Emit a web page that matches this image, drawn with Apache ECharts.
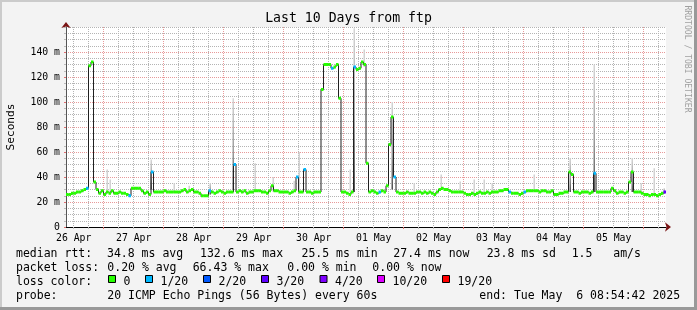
<!DOCTYPE html>
<html><head><meta charset="utf-8">
<script src="https://cdn.jsdelivr.net/npm/echarts@6/dist/echarts.min.js"></script>
<style>html,body{margin:0;padding:0;background:#f3f3f3}#c{width:697px;height:310px}</style>
</head><body><div id="c"></div>
<script>
// x values are hours since 2025-04-26 00:00
const startHour = 8 + 54/60 + 42/3600;   // graph start: Sat Apr 26 08:54:42 2025
const spanHours = 240;                    // 10 days, one median value per hour
const dayLabels = ['26 Apr','27 Apr','28 Apr','29 Apr','30 Apr','01 May','02 May','03 May','04 May','05 May'];
const dayLabelHours = [12,36,60,84,108,132,156,180,204,228];
const midnightHours = [24,48,72,96,120,144,168,192,216,240];
const minorHours = [12,18,24,30,36,42,48,54,60,66,72,78,84,90,96,102,108,114,120,126,132,138,144,150,156,162,168,174,180,186,192,198,204,210,216,222,228,234,240,246];
const yMajorTicks = [0,20,40,60,80,100,120,140];
const yTickLabels = ['0','20 m','40 m','60 m','80 m','100 m','120 m','140 m'];

// median rtt (ms), one value per hour from the start
const medianMs = [
 26,26,27,27,28,28,29,30,31,129,132,36,
 30,27,29,26,28,27,29,27,27,28,27,27,
 26,25,31,31,31,31,29,27,28,26,44,28,
 28,28,28,29,28,28,28,28,28,28,29,30,
 28,29,30,28,28,27,25,25,25,29,28,27,
 28,29,28,27,28,28,28,50,28,29,28,29,
 27,28,28,29,29,29,28,28,27,29,33,29,
 29,28,28,28,28,27,28,29,40,28,28,46,
 28,28,27,28,28,28,110,130,130,130,127,128,
 130,103,28,28,27,26,28,128,126,127,132,130,
 51,28,29,28,27,28,29,28,33,66,88,40,
 28,27,27,27,28,27,27,27,28,28,27,28,
 27,28,27,26,28,30,31,30,30,29,28,28,
 28,28,28,27,26,26,27,26,27,28,27,27,
 28,27,28,28,28,29,29,30,30,28,27,27,
 27,26,27,28,29,29,29,29,29,28,29,29,
 28,28,29,26,26,27,27,28,28,44,42,28,
 28,27,28,28,28,27,28,43,28,28,28,28,
 28,28,31,29,27,28,28,27,28,36,44,28,
 28,28,27,26,26,25,26,26,25,26,27,28
];
// hour index -> loss colour index (0 = no loss)
const lossColumns = [[8,1],[25,1],[34,1],[57,1],[67,1],[92,1],[95,1],[106,1],[115,1],[125,1],[131,1],[177,1],[183,1],[211,1],[239,3]];
// smoke spikes: [hours after start, low ms, high ms, shade level]
const smoke = [
 [16.4,28,46,1],[17.6,28,38,1],[34.0,30,54,2],[43.2,28,35,1],[49.1,29,33,1],[57.6,26,35,2],
 [67.0,30,103,2],[75.7,28,51,1],[82.7,28,40,1],[91.0,28,37,1],[93.0,28,60,1],[113.7,28,46,1],
 [115.2,28,159,2],[119.3,128,142,1],[130.2,30,100,2],[139.2,27,35,1],[150.0,30,42,1],[157.6,28,36.5,1],
 [163.2,27,38,1],[167.1,28,38,1],[170.4,28,35,1],[187.1,29,42,1],[201.6,28,55,2],[211.2,28,130,2],
 [226.4,28,55,2],[230.0,26,35,1],[235.2,26,47,1],[239.1,27,31,2]
];
const lossLegend = ['0','1/20','2/20','3/20','4/20','10/20','19/20'];
const lossColors = ['#26ff00','#00b8ff','#0059ff','#5e00ff','#7e00ff','#dd00ff','#ff0000'];
const titleText = 'Last 10 Days from ftp';
const legendRtt = ['median rtt:','34.8 ms avg','132.6 ms max','25.5 ms min','27.4 ms now','23.8 ms sd','1.5   am/s'];
const legendLoss = ['packet loss:','0.20 % avg','66.43 % max','0.00 % min','0.00 % now'];
const legendProbe = ['probe:','20 ICMP Echo Pings (56 Bytes) every 60s','end: Tue May  6 08:54:42 2025'];

// ---- layout ----
const FONT = 'DejaVu Sans Mono';
const rttX = [16,107,200,301.5,393.3,486.7,571.7];
const lossX = [16,107.3,192.7,287.3,372.3];
const boxX = [108.5,145.5,203.5,261.5,320,377.5,442.5];
const probeX = [16,107.3,479.3];
const rowY = [254.3,268.2,282,295.8];

const lossMap = {};
lossColumns.forEach(([i,l]) => lossMap[i] = l);
const medianLine = medianMs.map((v,i) => [startHour+i, v]);
medianLine.push([startHour+spanHours, medianMs[medianMs.length-1]]);
const bandData = medianMs.map((v,i) => [startHour+i, v, lossMap[i] || 0]);
const smokeData = smoke.map(s => [startHour+s[0], s[1], s[2], s[3]]);

const xMin = startHour, xMax = startHour + spanHours;
const gridMinor = {color:'#b4b4b4', type:[1,1], width:1};
const gridMajor = {color:'#e89a9a', type:[1,1], width:1};

const graphics = [];
function txt(x,y,s,opt){ graphics.push(Object.assign({type:'text', x, y, silent:true, style:Object.assign({text:s, font:'11.5px "'+FONT+'"', fill:'#000', textAlign:'left', textVerticalAlign:'middle'}, opt||{})})); }
// borders
graphics.push({type:'rect', shape:{x:0,y:0,width:697,height:2}, style:{fill:'#cbcbcb'}, silent:true});
graphics.push({type:'rect', shape:{x:0,y:0,width:2,height:310}, style:{fill:'#cbcbcb'}, silent:true});
graphics.push({type:'rect', shape:{x:694,y:0,width:3,height:310}, style:{fill:'#999'}, silent:true});
graphics.push({type:'rect', shape:{x:0,y:307,width:697,height:3}, style:{fill:'#999'}, silent:true});
txt(348.5,19,titleText,{font:'13.2px "'+FONT+'"', textAlign:'center'});
graphics.push({type:'text', x:11, y:127, rotation:Math.PI/2, silent:true, style:{text:'Seconds', font:'11.2px "'+FONT+'"', fill:'#000', textAlign:'center', textVerticalAlign:'middle'}});
graphics.push({type:'text', x:687.5, y:59, rotation:-Math.PI/2, silent:true, style:{text:'RRDTOOL / TOBI OETIKER', font:'8.1px "'+FONT+'"', fill:'#a0a0a0', textAlign:'center', textVerticalAlign:'middle'}});
legendRtt.forEach((s,k)=>txt(rttX[k],rowY[0],s));
legendLoss.forEach((s,k)=>txt(lossX[k],rowY[1],s));
txt(16,rowY[2],'loss color:');
lossLegend.forEach((s,k)=>{
  graphics.push({type:'rect', silent:true, shape:{x:boxX[k],y:275.5,width:7,height:7}, style:{fill:lossColors[k], stroke:'#000', lineWidth:1}});
  txt(boxX[k]+15,rowY[2],s);
});
legendProbe.forEach((s,k)=>txt(probeX[k],rowY[3],s));

const axisFont = {fontFamily:FONT, fontSize:9.8, color:'#000'};

const option = {
  animation:false,
  backgroundColor:'#f3f3f3',
  grid:{left:66, top:27, width:600, height:200, show:true, backgroundColor:'#ffffff', borderWidth:0},
  xAxis:[
    {type:'value', min:xMin, max:xMax, position:'bottom',
     axisLine:{show:true, onZero:false, lineStyle:{color:'#000', width:1}},
     axisTick:{show:true, customValues:minorHours, length:2, lineStyle:{color:'#bbb'}},
     axisLabel:{show:false}, splitLine:{show:true, lineStyle:gridMinor}},
    {type:'value', min:xMin, max:xMax, position:'bottom',
     axisLine:{show:true, onZero:false, symbol:['none','arrow'], symbolSize:[7,6], symbolOffset:[0,5], lineStyle:{color:'#7a1414', width:0}},
     axisTick:{show:true, customValues:midnightHours, length:2, lineStyle:{color:'#e07070'}},
     axisLabel:{show:false}, splitLine:{show:true, lineStyle:gridMajor}},
    {type:'value', min:xMin, max:xMax, position:'bottom',
     axisLine:{show:false, onZero:false}, axisTick:{show:false, customValues:dayLabelHours},
     axisLabel:Object.assign({show:true, customValues:dayLabelHours, margin:11, verticalAlign:'middle',
       formatter:v=>{const k=dayLabelHours.findIndex(h=>Math.abs(h-v)<1e-6); return k<0?'':dayLabels[k];}}, axisFont),
     splitLine:{show:false}}
  ],
  yAxis:[
    {type:'value', min:0, max:160, interval:5, position:'left',
     axisLine:{show:true, lineStyle:{color:'#555', width:1}},
     axisTick:{show:true, length:2, lineStyle:{color:'#bbb'}},
     axisLabel:{show:false}, splitLine:{show:true, lineStyle:gridMinor}},
    {type:'value', min:0, max:160, position:'left',
     axisLine:{show:true, symbol:['none','arrow'], symbolSize:[7,6], symbolOffset:[0,5], lineStyle:{color:'#7a1414', width:0}},
     axisTick:{show:true, customValues:yMajorTicks, length:2, lineStyle:{color:'#e07070'}},
     axisLabel:Object.assign({show:true, customValues:yMajorTicks, margin:6,
       formatter:v=>{const k=yMajorTicks.indexOf(v); return k<0?'':yTickLabels[k];}}, axisFont),
     splitLine:{show:true, lineStyle:gridMajor}}
  ],
  series:[
    {type:'custom', name:'smoke', xAxisIndex:0, yAxisIndex:0, silent:true, z:3, clip:true,
     data:smokeData,
     renderItem:(params, api)=>{
       const t=api.value(0), lo=api.value(1), hi=api.value(2), lvl=api.value(3);
       const pTop=api.coord([t,hi]), pBot=api.coord([t,lo]);
       const fill = lvl===1 ? '#d2d2d2' : new echarts.graphic.LinearGradient(0,0,0,1,[{offset:0,color:'#d6d6d6'},{offset:0.6,color:'#9a9a9a'},{offset:1,color:'#505050'}]);
       return {type:'rect', shape:{x:Math.round(pTop[0])-0.5, y:pTop[1], width:1.5, height:pBot[1]-pTop[1]}, style:{fill}};
     }},
    {type:'line', name:'median', xAxisIndex:0, yAxisIndex:0, data:medianLine, step:'end', showSymbol:false, symbol:'none', silent:true, z:4,
     lineStyle:{color:'#202020', width:1}},
    {type:'custom', name:'loss band', xAxisIndex:0, yAxisIndex:0, silent:true, z:5, clip:true,
     data:bandData,
     renderItem:(params, api)=>{
       const t=api.value(0), v=api.value(1), lvl=api.value(2);
       const p0=api.coord([t,v]), p1=api.coord([t+1,v]);
       return {type:'rect', shape:{x:p0[0], y:p0[1]-1.5, width:p1[0]-p0[0], height:3}, style:{fill:lossColors[lvl]}};
     }}
  ],
  graphic:graphics
};
const chart = echarts.init(document.getElementById('c'), null, {renderer:'canvas'});
chart.setOption(option);
</script></body></html>
